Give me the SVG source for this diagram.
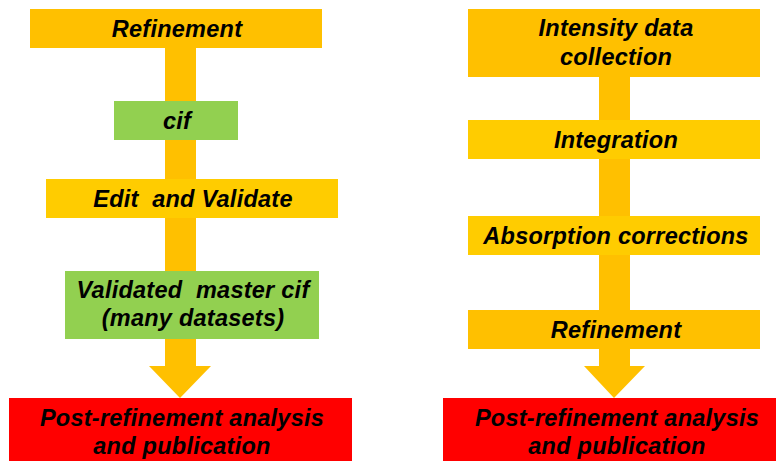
<svg xmlns="http://www.w3.org/2000/svg" width="776" height="461" viewBox="0 0 776 461">
<style>
.t{font-family:"Liberation Sans",Arial,sans-serif;font-weight:bold;font-style:italic;font-size:23.5px;letter-spacing:0.25px;text-anchor:middle;fill:#000}
.y{fill:#FFC000}
.y2{fill:#FFCC00}
.g{fill:#92D050}
.r{fill:#FF0000}
.c{fill:#FFC000}
</style>
<rect width="776" height="461" fill="#fff"/>
<g id="connectors">
<polygon class="c" points="165,48 196,48 196,366 211,366 180,398 149,366 165,366"/>
<polygon class="c" points="599,77 630,77 630,366 645,366 614,398 584,366 599,366"/>
</g>
<g id="refinement-left"><rect class="y" x="30" y="9" width="292" height="39"/><text class="t" x="177" y="37">Refinement</text></g>
<g id="cif"><rect class="g" x="114" y="101" width="124" height="39"/><text class="t" x="177" y="129">cif</text></g>
<g id="edit-validate"><rect class="y2" x="46" y="179" width="292" height="39"/><text class="t" x="193" y="207" xml:space="preserve">Edit  and Validate</text></g>
<g id="validated-master"><rect class="g" x="65" y="271" width="254" height="68"/><text class="t" x="193" y="298" xml:space="preserve">Validated  master cif</text><text class="t" x="193" y="326">(many datasets)</text></g>
<g id="post-left"><rect class="r" x="9" y="398" width="343" height="63"/><text class="t" x="182" y="426">Post-refinement analysis</text><text class="t" x="182" y="454">and publication</text></g>
<g id="intensity"><rect class="y" x="468" y="9" width="292" height="68"/><text class="t" x="616" y="36">Intensity data</text><text class="t" x="616" y="65">collection</text></g>
<g id="integration"><rect class="y2" x="468" y="120" width="292" height="39"/><text class="t" x="616" y="148">Integration</text></g>
<g id="absorption"><rect class="y2" x="468" y="216" width="292" height="39"/><text class="t" x="616" y="244">Absorption corrections</text></g>
<g id="refinement-right"><rect class="y" x="468" y="310" width="292" height="39"/><text class="t" x="616" y="338">Refinement</text></g>
<g id="post-right"><rect class="r" x="443" y="398" width="333" height="63"/><text class="t" x="617" y="426">Post-refinement analysis</text><text class="t" x="617" y="454">and publication</text></g>
</svg>
